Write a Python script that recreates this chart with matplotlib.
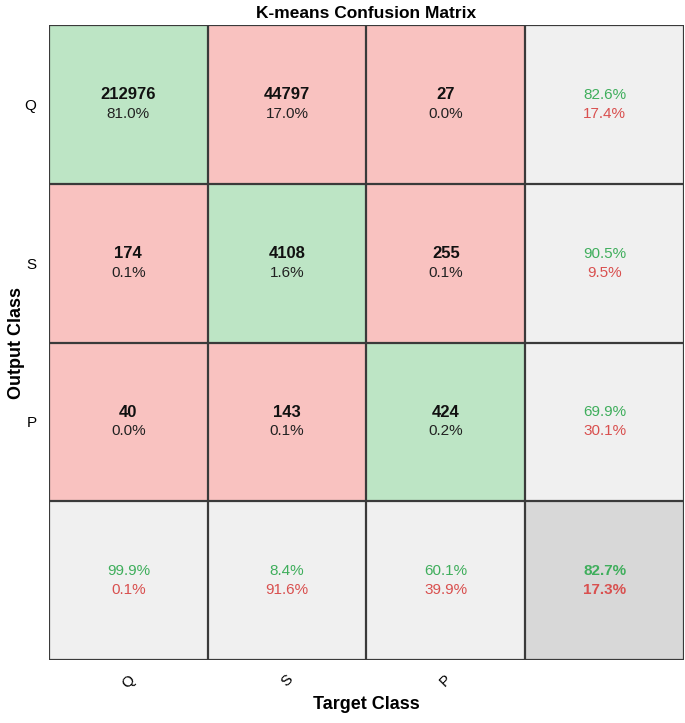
import matplotlib.pyplot as plt
import numpy as np

plt.rcParams['font.family'] = ['Liberation Sans', 'DejaVu Sans']

classes = ['Q', 'S', 'P']
counts = [[212976, 44797, 27],
          [174, 4108, 255],
          [40, 143, 424]]
cell_pct = [[81.0, 17.0, 0.0],
            [0.1, 1.6, 0.1],
            [0.0, 0.1, 0.2]]
row_good = [82.6, 90.5, 69.9]
row_bad = [17.4, 9.5, 30.1]
col_good = [99.9, 8.4, 60.1]
col_bad = [0.1, 91.6, 39.9]
total_good = 82.7
total_bad = 17.3

green_bg = '#bde5c5'
red_bg = '#f9c2c0'
grey_bg = '#f0f0f0'
dark_bg = '#d8d8d8'
green_txt = '#3fae5c'
red_txt = '#d9504f'

n = len(classes)
fig = plt.figure(figsize=(6.85, 7.23), dpi=100)
ax = fig.add_axes([0.0715, 0.0871, 0.927, 0.8783])

# background colours per cell
rgb = np.zeros((n + 1, n + 1, 3))
for i in range(n + 1):
    for j in range(n + 1):
        if i == n and j == n:
            c = dark_bg
        elif i == n or j == n:
            c = grey_bg
        elif i == j:
            c = green_bg
        else:
            c = red_bg
        rgb[i, j] = plt.matplotlib.colors.to_rgb(c)
ax.imshow(rgb, extent=(-0.5, n + 0.5, n + 0.5, -0.5), aspect='auto')

for k in range(n + 2):
    ax.axhline(k - 0.5, color='#3a3a3a', lw=1.6)
    ax.axvline(k - 0.5, color='#3a3a3a', lw=1.6)

d = 0.06
fs = 11
for i in range(n):
    for j in range(n):
        ax.text(j, i - d, str(counts[i][j]), ha='center', va='center',
                fontsize=12, fontweight='bold', color='#111111')
        ax.text(j, i + d, f'{cell_pct[i][j]:.1f}%', ha='center', va='center',
                fontsize=fs, color='#222222')
    ax.text(n, i - d, f'{row_good[i]:.1f}%', ha='center', va='center',
            fontsize=fs, color=green_txt)
    ax.text(n, i + d, f'{row_bad[i]:.1f}%', ha='center', va='center',
            fontsize=fs, color=red_txt)
    ax.text(i, n - d, f'{col_good[i]:.1f}%', ha='center', va='center',
            fontsize=fs, color=green_txt)
    ax.text(i, n + d, f'{col_bad[i]:.1f}%', ha='center', va='center',
            fontsize=fs, color=red_txt)
ax.text(n, n - d, f'{total_good:.1f}%', ha='center', va='center',
        fontsize=fs, fontweight='bold', color=green_txt)
ax.text(n, n + d, f'{total_bad:.1f}%', ha='center', va='center',
        fontsize=fs, fontweight='bold', color=red_txt)

ax.set_xlim(-0.5, n + 0.5)
ax.set_ylim(n + 0.5, -0.5)
ax.set_xticks(range(n))
ax.set_xticklabels(classes, rotation=45, fontsize=11)
ax.set_yticks(range(n))
ax.set_yticklabels(classes, fontsize=11)
ax.tick_params(length=0, pad=9)
for s in ax.spines.values():
    s.set_visible(False)

ax.set_title('K-means Confusion Matrix', fontsize=12.5, fontweight='bold', pad=5)
ax.set_xlabel('Target Class', fontsize=13, fontweight='bold', labelpad=4)
ax.set_ylabel('Output Class', fontsize=13, fontweight='bold', labelpad=0)

plt.savefig('out.png', dpi=100)
